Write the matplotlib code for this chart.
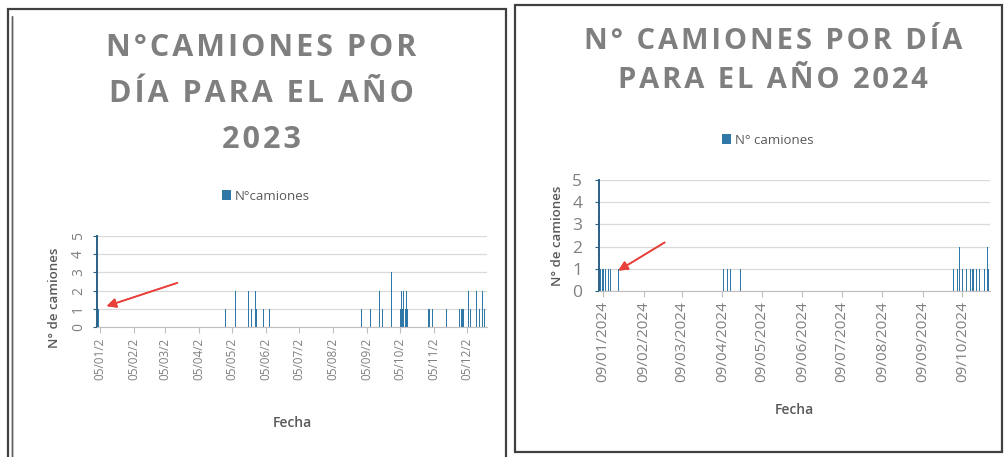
import pandas as pd
import matplotlib.pyplot as plt
from matplotlib.patches import Rectangle

# Data (date of each bar, trucks per day)
dates_2023 = ['2023-01-03', '2023-04-29', '2023-05-08', '2023-05-20', '2023-05-23',
              '2023-05-24', '2023-05-26', '2023-05-27', '2023-06-03', '2023-06-08',
              '2023-08-31', '2023-09-08', '2023-09-16', '2023-09-19', '2023-09-27',
              '2023-10-05', '2023-10-06', '2023-10-07', '2023-10-08', '2023-10-10',
              '2023-10-11', '2023-10-12', '2023-10-31', '2023-11-01', '2023-11-03',
              '2023-11-16', '2023-11-28', '2023-11-30', '2023-12-01', '2023-12-02',
              '2023-12-06', '2023-12-08', '2023-12-13', '2023-12-16', '2023-12-19',
              '2023-12-21']
values_2023 = [1, 1, 2, 2, 1,
               1, 2, 1, 1, 1,
               1, 1, 2, 1, 3,
               1, 2, 1, 2, 1,
               2, 1, 1, 1, 1,
               1, 1, 1, 1, 1,
               2, 1, 2, 1, 2,
               1]

dates_2024 = ['2024-01-07', '2024-01-09', '2024-01-11', '2024-01-13', '2024-01-15',
              '2024-01-21', '2024-04-10', '2024-04-13', '2024-04-15', '2024-04-23',
              '2024-10-02', '2024-10-05', '2024-10-07', '2024-10-09', '2024-10-12',
              '2024-10-15', '2024-10-17', '2024-10-20', '2024-10-22', '2024-10-26',
              '2024-10-28', '2024-10-29']
values_2024 = [1, 1, 1, 1, 1,
               1, 1, 1, 1, 1,
               1, 1, 2, 1, 1,
               1, 1, 1, 1, 1,
               2, 1]

ticks_2023 = ['2023-%02d-05' % m for m in range(1, 13)]
labels_2023 = ['05/%02d/2' % m for m in range(1, 13)]
ticks_2024 = ['2024-%02d-09' % m for m in range(1, 11)]
labels_2024 = ['09/%02d/2024' % m for m in range(1, 11)]

grey = '#7f7f7f'
bar_col = '#2f78a8'
plt.rcParams['font.family'] = ['Open Sans', 'DejaVu Sans']

fig = plt.figure(figsize=(10.05, 4.57), dpi=100)

# panel frames
fig.add_artist(Rectangle((8 / 1005, -0.01), 498 / 1005, (457 - 9) / 457 + 0.01,
                         transform=fig.transFigure, fill=False, ec='#404040', lw=1.6))
fig.add_artist(Rectangle((12 / 1005, -0.01), 0, (457 - 11) / 457,
                         transform=fig.transFigure, fill=False, ec='#606060', lw=1.0))
fig.add_artist(Rectangle((515 / 1005, 5 / 457), 487 / 1005, 447 / 457,
                         transform=fig.transFigure, fill=False, ec='#404040', lw=1.6))


def draw(ax, dates, values, ticks, labels, xmin, xmax, leg_label, tick_size, xpad, ypad):
    d = pd.to_datetime(dates)
    ax.bar(d, values, width=0.9, color=bar_col, label=leg_label, linewidth=0)
    ax.set_xlim(pd.Timestamp(xmin), pd.Timestamp(xmax))
    ax.set_ylim(0, 5)
    ax.set_yticks(range(6))
    ax.set_xticks(pd.to_datetime(ticks))
    ax.set_xticklabels(labels, rotation=90, color=grey, fontsize=tick_size)
    ax.tick_params(axis='y', colors='#2a5f86', labelcolor=grey, labelsize=tick_size + 1.5,
                   length=3, pad=ypad)
    ax.tick_params(axis='x', colors='#bfbfbf', length=4, labelcolor=grey)
    ax.grid(axis='y', color='#d9d9d9', lw=0.9)
    ax.set_axisbelow(True)
    for s in ['top', 'right']:
        ax.spines[s].set_visible(False)
    ax.spines['left'].set_color('#2a5f86')
    ax.spines['left'].set_linewidth(1.4)
    ax.spines['bottom'].set_color('#bfbfbf')
    ax.set_xlabel('Fecha', color='#595959', fontsize=10, fontweight='semibold', labelpad=xpad)
    ax.set_ylabel('N° de camiones', color='#595959', fontsize=9.5, fontweight='semibold')


ax1 = fig.add_axes([97 / 1005, 130 / 457, 390 / 1005, 91 / 457])
draw(ax1, dates_2023, values_2023, ticks_2023, labels_2023,
     '2023-01-02', '2023-12-23', 'N°camiones', 8.5, 26, 5)
for t in ax1.get_yticklabels():
    t.set_rotation(90)
    t.set_va('center')
ax1.yaxis.set_label_coords(-0.092, 0.32)

ax2 = fig.add_axes([599 / 1005, 166 / 457, 391 / 1005, 111 / 457])
draw(ax2, dates_2024, values_2024, ticks_2024, labels_2024,
     '2024-01-06', '2024-10-30', 'N° camiones', 11, 15, 9)
ax2.yaxis.set_label_coords(-0.09, 0.5)

ax1.legend(loc='center', bbox_to_anchor=(266 / 1005, 261 / 457), bbox_transform=fig.transFigure,
           frameon=False, fontsize=9.5, handlelength=0.7, handleheight=0.7, handletextpad=0.3,
           labelcolor='#595959')
ax2.legend(loc='center', bbox_to_anchor=(768 / 1005, 317 / 457), bbox_transform=fig.transFigure,
           frameon=False, fontsize=9.5, handlelength=0.7, handleheight=0.7, handletextpad=0.3,
           labelcolor='#595959')


def spaced(s):
    # wide letter spacing like the original title
    return '\n'.join('\u200a'.join(line) for line in s.split('\n'))


fig.text(261 / 1005, 1 - 94 / 457, spaced('N°CAMIONES POR\nDÍA PARA EL AÑO\n2023'),
         ha='center', va='center', fontsize=22, color=grey, fontweight='bold', linespacing=1.68)
fig.text(773 / 1005, 1 - 61 / 457, spaced('N° CAMIONES POR DÍA\nPARA EL AÑO 2024'),
         ha='center', va='center', fontsize=21, color=grey, fontweight='bold', linespacing=1.48)

# red arrows
arrow = dict(arrowstyle='-|>', color='#e8413c', lw=1.2, mutation_scale=14)
fig.add_artist(plt.annotate('', xy=(104, 457 - 307), xytext=(180, 457 - 282),
                            xycoords='figure pixels', textcoords='figure pixels', arrowprops=arrow))
fig.add_artist(plt.annotate('', xy=(616, 457 - 272), xytext=(667, 457 - 241),
                            xycoords='figure pixels', textcoords='figure pixels', arrowprops=arrow))

fig.savefig('out.png', dpi=100)
